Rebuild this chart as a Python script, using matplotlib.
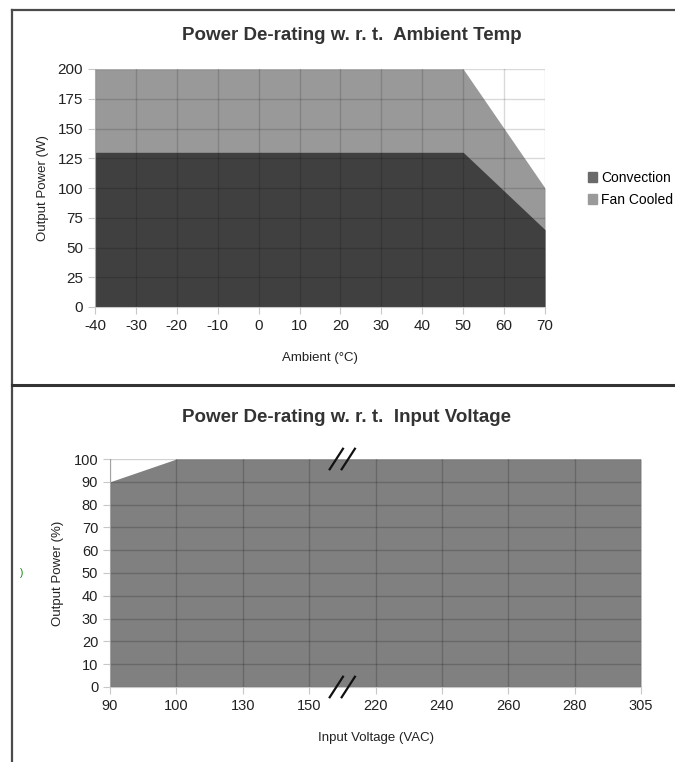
import matplotlib
matplotlib.use("Agg")
import matplotlib.pyplot as plt
from matplotlib.lines import Line2D
from matplotlib.patches import Patch

plt.rcParams['font.family'] = ['Liberation Sans', 'DejaVu Sans']
plt.rcParams['axes.unicode_minus'] = False

# ambient temperature de-rating
temp = [-40, 50, 70]
fan_cooled = [200, 200, 100]
convection = [130, 130, 65]

# input voltage de-rating (categorical axis, equally spaced)
volt_labels = ['90', '100', '130', '150', '220', '240', '260', '280', '305']
volt_power = [90, 100, 100, 100, 100, 100, 100, 100, 100]

fig = plt.figure(figsize=(6.75, 7.62), dpi=100)
W, H = 675, 762

def fx(px):
    return px / W

def fy(py):
    return 1 - py / H

# frame lines
fig.add_artist(Line2D([fx(12), fx(12)], [0, fy(10)], color='#4a4a4a', lw=1.6))
fig.add_artist(Line2D([fx(12), 1], [fy(10), fy(10)], color='#4a4a4a', lw=1.6))
fig.add_artist(Line2D([fx(12), 1], [fy(385), fy(385)], color='#333333', lw=2.2))

tick_col = '#c8c8c8'
txt_col = '#222222'

# ---------- top chart ----------
ax1 = fig.add_axes([fx(95), fy(307), fx(545) - fx(95), fy(69) - fy(307)])
ax1.fill_between(temp, 0, fan_cooled, color='#999999', lw=0, zorder=1)
ax1.fill_between(temp, 0, convection, color='#404040', lw=0, zorder=2)
ax1.set_xlim(-40, 70)
ax1.set_ylim(0, 200)
ax1.set_xticks(range(-40, 71, 10))
ax1.set_yticks(range(0, 201, 25))
ax1.grid(True, color='black', alpha=0.15, lw=1)
ax1.set_axisbelow(False)
for s in ax1.spines.values():
    s.set_visible(False)
ax1.spines['left'].set_visible(True)
ax1.spines['left'].set_color(tick_col)
ax1.spines['bottom'].set_visible(True)
ax1.spines['bottom'].set_color(tick_col)
ax1.tick_params(colors=tick_col, labelcolor=txt_col, labelsize=11, length=5)
ax1.set_ylabel('Output Power (W)', fontsize=9.5, color=txt_col, labelpad=6)
ax1.set_xlabel('Ambient (°C)', fontsize=9.5, color=txt_col, labelpad=14)
fig.text(fx(352), fy(35), 'Power De-rating w. r. t.  Ambient Temp', ha='center', va='center',
         fontsize=13.5, fontweight='bold', color='#333333')
handles = [Patch(color='#6a6a6a', label='Convection'), Patch(color='#9a9a9a', label='Fan Cooled')]
fig.legend(handles=handles, loc='center left', bbox_to_anchor=(fx(575), fy(189)), frameon=False,
           fontsize=10, handlelength=0.7, handleheight=0.7, handletextpad=0.3, labelspacing=0.6)

# ---------- bottom chart ----------
ax2 = fig.add_axes([fx(110), fy(687), fx(641) - fx(110), fy(459) - fy(687)])
xpos = list(range(len(volt_labels)))
ax2.fill_between(xpos, 0, volt_power, color='#808080', lw=0, zorder=1)
ax2.set_xlim(0, len(volt_labels) - 1)
ax2.set_ylim(0, 100)
ax2.set_xticks(xpos)
ax2.set_xticklabels(volt_labels)
ax2.set_yticks(range(0, 101, 10))
ax2.grid(True, color='black', alpha=0.18, lw=1)
ax2.set_axisbelow(False)
for s in ax2.spines.values():
    s.set_visible(False)
ax2.spines['left'].set_visible(True)
ax2.spines['left'].set_color(tick_col)
ax2.spines['bottom'].set_visible(True)
ax2.spines['bottom'].set_color(tick_col)
ax2.tick_params(colors=tick_col, labelcolor=txt_col, labelsize=10.5, length=5)
ax2.set_ylabel('Output Power (%)', fontsize=9.5, color=txt_col, labelpad=7)
ax2.set_xlabel('Input Voltage (VAC)', fontsize=9.5, color=txt_col, labelpad=14)
fig.text(fx(346), fy(418), 'Power De-rating w. r. t.  Input Voltage', ha='center', va='center',
         fontsize=13.5, fontweight='bold', color='#333333')

# axis break marks between 150 and 220
for yb in (1.0, 0.0):
    for dx in (-0.09, 0.09):
        xc = 3.5 + dx
        ax2.plot([xc - 0.1, xc + 0.1], [yb * 100 - 4.5, yb * 100 + 4.5], color='#111111',
                 lw=1.6, clip_on=False, zorder=5)

fig.text(fx(22), fy(573), ')', color='green', fontsize=7, ha='center', va='center')

fig.savefig('out.png', dpi=100)
